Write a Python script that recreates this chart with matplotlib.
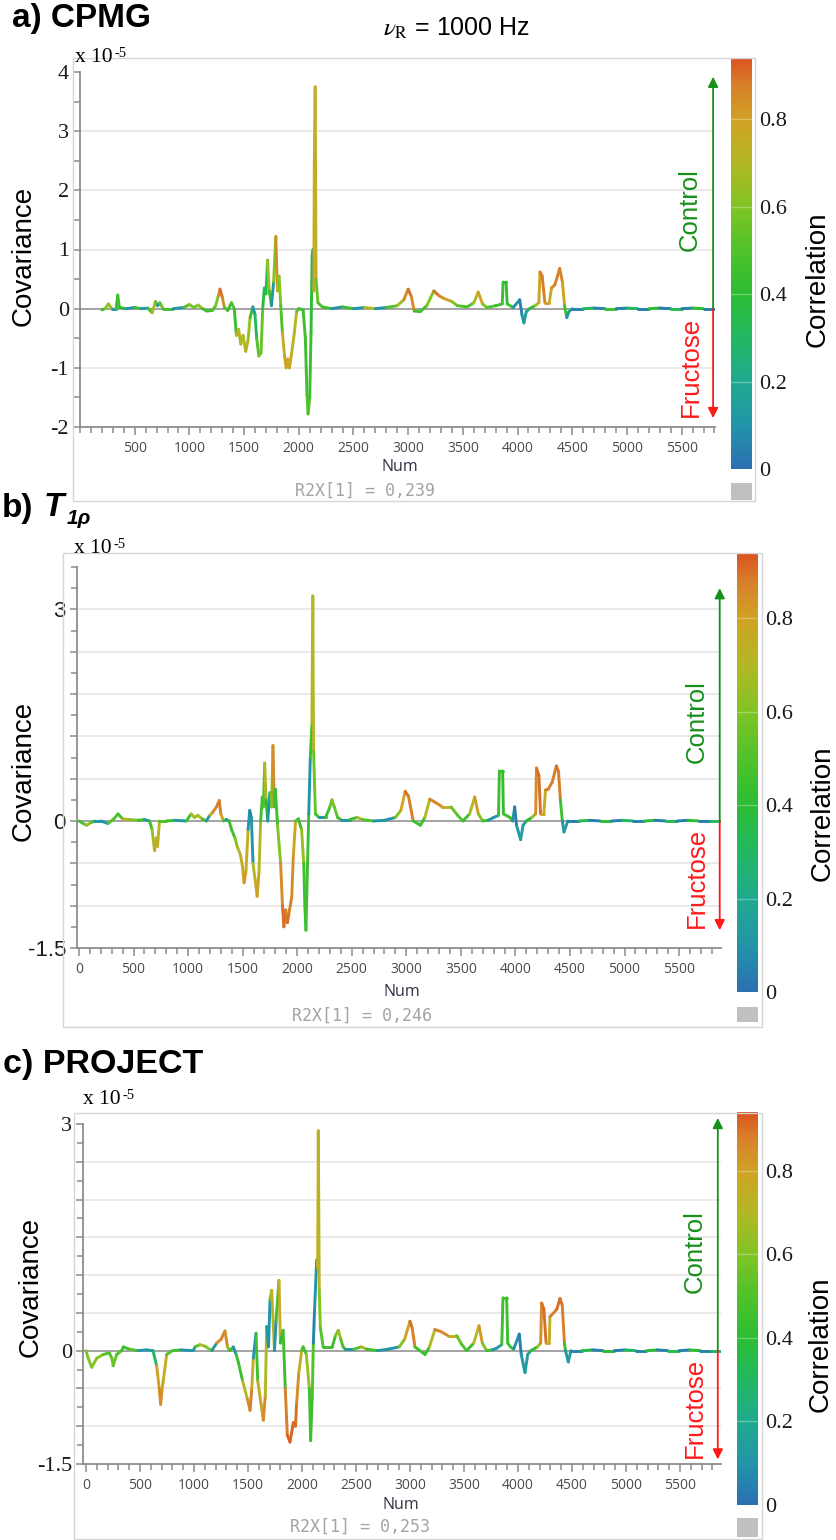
import numpy as np
import matplotlib
matplotlib.use("Agg")
import matplotlib.pyplot as plt
from matplotlib.collections import LineCollection
from matplotlib.colors import LinearSegmentedColormap, Normalize
from matplotlib.cm import ScalarMappable
from matplotlib.patches import Rectangle

# --- data: (Num, covariance x1e-5, correlation) ---
cpmg_num = [
    200, 230, 260, 290, 330, 345, 360, 420, 500, 560,
    620, 660, 690, 710, 730, 760, 850, 950, 1000, 1040,
    1080, 1120, 1160, 1210, 1240, 1265, 1280, 1300, 1320, 1350,
    1385, 1410, 1430, 1450, 1470, 1490, 1515, 1535, 1555, 1580,
    1600, 1615, 1635, 1655, 1670, 1685, 1700, 1715, 1730, 1750,
    1770, 1790, 1805, 1820, 1835, 1850, 1870, 1885, 1900, 1915,
    1935, 1960, 1980, 2000, 2040, 2060, 2075, 2085, 2100, 2112,
    2122, 2130, 2137, 2142, 2150, 2158, 2175, 2215, 2300, 2400,
    2500, 2600, 2700, 2800, 2900, 2960, 3000, 3030, 3055, 3110,
    3170, 3235, 3280, 3330, 3400, 3450, 3540, 3600, 3640, 3680,
    3720, 3800, 3860, 3868, 3895, 3905, 3960, 4020, 4040, 4058,
    4080, 4110, 4160, 4195, 4205, 4225, 4250, 4290, 4310, 4340,
    4365, 4385, 4410, 4430, 4450, 4470, 4500, 4600, 4700, 4800,
    4900, 5000, 5100, 5200, 5300, 5400, 5500, 5600, 5700, 5810]
cpmg_cov = [
    -0.02, 0.00, 0.08, 0.00, 0.00, 0.23, 0.02, 0.00, 0.02, 0.00,
    0.01, -0.07, 0.12, 0.05, 0.10, 0.00, 0.00, 0.02, 0.07, 0.02,
    0.06, 0.00, -0.04, -0.03, 0.05, 0.22, 0.33, 0.20, 0.02, -0.03,
    0.10, 0.00, -0.45, -0.35, -0.60, -0.45, -0.72, -0.55, -0.15, 0.03,
    -0.10, -0.50, -0.80, -0.75, 0.00, 0.35, 0.25, 0.82, 0.30, 0.05,
    0.45, 1.22, 0.30, 0.55, 0.05, -0.40, -0.80, -1.00, -0.85, -1.00,
    -0.75, -0.40, -0.05, 0.00, -0.02, -0.50, -1.45, -1.78, -1.50, -0.40,
    0.90, 1.00, 0.30, 2.40, 3.75, 0.50, 0.10, 0.03, 0.00, 0.03,
    0.00, 0.02, 0.00, 0.02, 0.05, 0.15, 0.33, 0.20, -0.04, -0.05,
    0.05, 0.30, 0.22, 0.17, 0.12, 0.05, 0.03, 0.10, 0.28, 0.08,
    0.02, 0.05, 0.08, 0.45, 0.45, 0.08, 0.02, 0.15, -0.10, -0.24,
    -0.05, 0.00, 0.05, 0.10, 0.62, 0.55, 0.10, 0.10, 0.35, 0.40,
    0.55, 0.68, 0.45, 0.05, -0.15, -0.05, 0.00, 0.00, 0.01, 0.00,
    0.00, 0.01, 0.00, 0.00, 0.01, 0.00, 0.00, 0.01, 0.00, 0.00]
cpmg_corr = [
    0.45, 0.60, 0.65, 0.10, 0.45, 0.45, 0.40, 0.10, 0.45, 0.10,
    0.45, 0.70, 0.50, 0.10, 0.55, 0.45, 0.10, 0.50, 0.60, 0.55,
    0.65, 0.45, 0.45, 0.50, 0.60, 0.85, 0.90, 0.85, 0.50, 0.45,
    0.50, 0.45, 0.70, 0.72, 0.70, 0.68, 0.75, 0.65, 0.45, 0.10,
    0.30, 0.50, 0.62, 0.55, 0.40, 0.30, 0.35, 0.65, 0.45, 0.10,
    0.60, 0.85, 0.70, 0.60, 0.50, 0.75, 0.80, 0.78, 0.75, 0.80,
    0.72, 0.70, 0.55, 0.45, 0.45, 0.45, 0.50, 0.50, 0.45, 0.40,
    0.45, 0.10, 0.75, 0.80, 0.75, 0.55, 0.50, 0.45, 0.10, 0.45,
    0.10, 0.70, 0.10, 0.50, 0.65, 0.85, 0.90, 0.85, 0.45, 0.45,
    0.60, 0.90, 0.85, 0.80, 0.60, 0.50, 0.50, 0.70, 0.80, 0.60,
    0.50, 0.45, 0.45, 0.42, 0.42, 0.45, 0.10, 0.05, 0.10, 0.15,
    0.20, 0.40, 0.65, 0.80, 0.88, 0.88, 0.80, 0.75, 0.85, 0.88,
    0.88, 0.88, 0.80, 0.45, 0.10, 0.15, 0.05, 0.30, 0.05, 0.45,
    0.05, 0.30, 0.05, 0.40, 0.05, 0.35, 0.05, 0.40, 0.05, 0.30]

t1r_num = [
    0, 40, 70, 110, 140, 200, 266, 320, 357, 400,
    465, 540, 600, 647, 670, 693, 710, 720, 738, 800,
    880, 984, 1028, 1060, 1090, 1130, 1166, 1200, 1224, 1260,
    1286, 1300, 1325, 1350, 1376, 1398, 1430, 1450, 1480, 1500,
    1513, 1530, 1550, 1565, 1580, 1595, 1615, 1633, 1650, 1665,
    1680, 1690, 1702, 1715, 1730, 1750, 1765, 1778, 1790, 1800,
    1820, 1848, 1865, 1878, 1895, 1910, 1923, 1950, 1965, 1985,
    2010, 2040, 2060, 2070, 2080, 2095, 2106, 2120, 2135, 2143,
    2150, 2167, 2200, 2260, 2300, 2318, 2340, 2370, 2400, 2480,
    2550, 2600, 2700, 2800, 2900, 2950, 2990, 3020, 3063, 3130,
    3170, 3215, 3280, 3330, 3410, 3470, 3519, 3580, 3627, 3660,
    3701, 3750, 3800, 3845, 3853, 3883, 3890, 3950, 3975, 3993,
    4010, 4048, 4070, 4100, 4150, 4185, 4193, 4215, 4230, 4260,
    4276, 4300, 4337, 4375, 4395, 4412, 4430, 4445, 4480, 4580,
    4680, 4780, 4880, 4980, 5080, 5180, 5280, 5380, 5480, 5580,
    5680, 5780, 5884]
t1r_cov = [
    0.00, -0.03, -0.05, -0.02, 0.00, 0.00, -0.03, 0.03, 0.10, 0.03,
    0.02, 0.01, 0.02, 0.00, -0.10, -0.35, -0.20, -0.30, 0.00, 0.00,
    0.01, 0.00, 0.10, 0.05, 0.08, 0.03, 0.00, 0.08, 0.12, 0.20,
    0.29, 0.10, 0.00, 0.02, 0.00, -0.10, -0.20, -0.30, -0.40, -0.55,
    -0.73, -0.60, -0.10, 0.15, 0.05, -0.50, -0.70, -0.89, -0.60, 0.00,
    0.34, 0.20, 0.82, 0.30, 0.00, 0.40, 0.20, 1.07, 0.20, 0.45,
    -0.05, -0.50, -1.00, -1.25, -1.05, -1.20, -1.10, -0.90, -0.40, 0.00,
    0.03, -0.10, -0.50, -1.00, -1.29, -0.50, 0.10, 0.90, 1.36, 3.19,
    1.00, 0.10, 0.05, 0.05, 0.20, 0.30, 0.20, 0.05, 0.02, 0.02,
    0.05, 0.02, 0.00, 0.01, 0.05, 0.15, 0.42, 0.35, 0.00, -0.05,
    0.05, 0.31, 0.25, 0.20, 0.20, 0.08, 0.00, 0.10, 0.34, 0.10,
    0.00, 0.01, 0.05, 0.08, 0.71, 0.71, 0.10, 0.05, 0.00, 0.20,
    -0.05, -0.22, -0.05, 0.00, 0.05, 0.10, 0.75, 0.65, 0.10, 0.10,
    0.44, 0.45, 0.55, 0.78, 0.70, 0.30, 0.00, -0.13, 0.00, 0.00,
    0.01, 0.00, 0.00, 0.01, 0.00, 0.00, 0.01, 0.00, 0.00, 0.01,
    0.00, 0.00, 0.00]
t1r_corr = [
    0.45, 0.55, 0.65, 0.50, 0.10, 0.10, 0.50, 0.50, 0.45, 0.70,
    0.60, 0.45, 0.10, 0.45, 0.65, 0.78, 0.75, 0.72, 0.50, 0.45,
    0.10, 0.45, 0.70, 0.65, 0.70, 0.50, 0.10, 0.80, 0.85, 0.88,
    0.88, 0.80, 0.45, 0.10, 0.45, 0.45, 0.60, 0.70, 0.75, 0.80,
    0.82, 0.75, 0.10, 0.05, 0.10, 0.70, 0.75, 0.80, 0.70, 0.45,
    0.45, 0.50, 0.70, 0.40, 0.10, 0.45, 0.60, 0.85, 0.45, 0.45,
    0.60, 0.85, 0.90, 0.90, 0.88, 0.90, 0.88, 0.85, 0.80, 0.50,
    0.45, 0.65, 0.45, 0.45, 0.45, 0.45, 0.10, 0.45, 0.65, 0.70,
    0.55, 0.45, 0.10, 0.45, 0.55, 0.60, 0.55, 0.45, 0.10, 0.45,
    0.70, 0.50, 0.10, 0.10, 0.60, 0.80, 0.90, 0.88, 0.45, 0.45,
    0.70, 0.88, 0.85, 0.75, 0.55, 0.50, 0.45, 0.70, 0.82, 0.60,
    0.45, 0.10, 0.10, 0.45, 0.45, 0.42, 0.45, 0.45, 0.10, 0.05,
    0.10, 0.15, 0.15, 0.40, 0.65, 0.85, 0.90, 0.90, 0.80, 0.75,
    0.88, 0.88, 0.88, 0.90, 0.88, 0.45, 0.10, 0.15, 0.05, 0.35,
    0.05, 0.40, 0.05, 0.30, 0.05, 0.40, 0.05, 0.35, 0.05, 0.40,
    0.05, 0.30, 0.05]

proj_num = [
    0, 20, 53, 99, 160, 215, 240, 251, 284, 330,
    346, 400, 480, 560, 620, 654, 678, 691, 705, 715,
    747, 800, 880, 994, 1010, 1055, 1100, 1164, 1210, 1250,
    1287, 1310, 1330, 1364, 1390, 1410, 1450, 1494, 1519, 1535,
    1549, 1574, 1590, 1620, 1642, 1660, 1673, 1690, 1704, 1719,
    1745, 1760, 1787, 1800, 1825, 1845, 1864, 1889, 1920, 1940,
    1950, 1970, 1997, 2010, 2040, 2068, 2080, 2095, 2105, 2115,
    2136, 2145, 2151, 2160, 2170, 2196, 2280, 2310, 2336, 2360,
    2380, 2400, 2480, 2550, 2600, 2700, 2800, 2900, 2950, 3000,
    3020, 3046, 3139, 3180, 3231, 3290, 3350, 3432, 3480, 3525,
    3590, 3639, 3670, 3710, 3760, 3800, 3850, 3861, 3895, 3905,
    3930, 3960, 4012, 4030, 4065, 4090, 4120, 4180, 4210, 4219,
    4240, 4260, 4290, 4296, 4330, 4360, 4389, 4410, 4430, 4440,
    4466, 4490, 4590, 4690, 4790, 4890, 4990, 5090, 5190, 5290,
    5390, 5490, 5590, 5690, 5790, 5880]
proj_cov = [
    0.00, -0.10, -0.22, -0.10, -0.05, -0.03, -0.10, -0.20, -0.05, 0.00,
    0.05, 0.02, 0.00, 0.01, 0.00, -0.20, -0.50, -0.71, -0.50, -0.40,
    -0.05, 0.00, 0.01, 0.00, 0.05, 0.08, 0.06, 0.00, 0.10, 0.15,
    0.26, 0.05, 0.00, 0.05, -0.05, -0.15, -0.40, -0.64, -0.79, -0.50,
    -0.10, 0.23, -0.40, -0.70, -0.92, -0.60, 0.32, 0.05, 0.68, 0.80,
    0.00, 0.40, 0.93, 0.10, 0.27, -0.50, -1.12, -1.21, -0.95, -1.00,
    -0.70, -0.30, 0.00, 0.05, -0.05, -0.50, -1.19, -0.60, 0.10, 0.50,
    1.20, 1.09, 2.91, 0.80, 0.30, 0.05, 0.05, 0.20, 0.27, 0.15,
    0.05, 0.02, 0.02, 0.05, 0.02, 0.00, 0.02, 0.05, 0.15, 0.39,
    0.30, 0.05, -0.05, 0.05, 0.28, 0.25, 0.20, 0.20, 0.08, 0.00,
    0.10, 0.33, 0.10, 0.00, 0.01, 0.03, 0.08, 0.70, 0.70, 0.10,
    0.05, 0.02, 0.22, -0.05, -0.29, -0.05, 0.00, 0.05, 0.10, 0.63,
    0.55, 0.10, 0.10, 0.45, 0.50, 0.55, 0.69, 0.60, 0.10, 0.00,
    -0.15, 0.00, 0.00, 0.01, 0.00, 0.00, 0.01, 0.00, 0.00, 0.01,
    0.00, 0.00, 0.01, 0.00, 0.00, 0.00]
proj_corr = [
    0.60, 0.60, 0.60, 0.60, 0.50, 0.50, 0.55, 0.55, 0.50, 0.45,
    0.45, 0.50, 0.10, 0.10, 0.30, 0.80, 0.85, 0.85, 0.80, 0.75,
    0.50, 0.45, 0.10, 0.10, 0.50, 0.70, 0.60, 0.10, 0.85, 0.88,
    0.85, 0.60, 0.45, 0.10, 0.45, 0.45, 0.70, 0.85, 0.88, 0.75,
    0.10, 0.45, 0.75, 0.80, 0.85, 0.70, 0.15, 0.10, 0.60, 0.75,
    0.10, 0.45, 0.75, 0.40, 0.45, 0.88, 0.92, 0.92, 0.90, 0.90,
    0.85, 0.75, 0.50, 0.45, 0.65, 0.45, 0.45, 0.50, 0.05, 0.10,
    0.50, 0.75, 0.72, 0.60, 0.50, 0.45, 0.45, 0.60, 0.65, 0.50,
    0.45, 0.10, 0.50, 0.70, 0.45, 0.10, 0.10, 0.60, 0.80, 0.90,
    0.88, 0.45, 0.45, 0.70, 0.88, 0.85, 0.75, 0.55, 0.50, 0.45,
    0.70, 0.82, 0.60, 0.45, 0.10, 0.10, 0.45, 0.50, 0.45, 0.45,
    0.45, 0.10, 0.05, 0.10, 0.15, 0.15, 0.40, 0.65, 0.85, 0.90,
    0.90, 0.80, 0.75, 0.88, 0.88, 0.90, 0.90, 0.88, 0.45, 0.10,
    0.15, 0.05, 0.35, 0.05, 0.40, 0.05, 0.30, 0.05, 0.40, 0.05,
    0.35, 0.05, 0.40, 0.05, 0.30, 0.05]

r2x_labels = ["R2X[1] = 0,239", "R2X[1] = 0,246", "R2X[1] = 0,253"]
corr_ticks = [0, 0.2, 0.4, 0.6, 0.8]
corr_tick_labels = ["0", "0.2", "0.4", "0.6", "0.8"]
corr_max = 0.94

# --- styling ---
plt.rcParams["axes.unicode_minus"] = False
plt.rcParams["mathtext.fontset"] = "stix"
SERIF = ["Liberation Serif", "DejaVu Serif"]
SANS = ["Liberation Sans", "DejaVu Sans"]
TICKSANS = ["Open Sans", "DejaVu Sans"]
GREEN = "#17901a"
RED = "#ff1a1a"

W, H = 837, 1540
stops = [(0.00, "#2b6fb3"), (0.10, "#2295a8"), (0.20, "#1faa8e"), (0.30, "#22b862"),
         (0.40, "#2cbd34"), (0.50, "#4fc22a"), (0.60, "#80c424"), (0.70, "#b2b824"),
         (0.80, "#d0a224"), (0.88, "#d8802a"), (0.94, "#d9531f")]
corr_cmap = LinearSegmentedColormap.from_list(
    "simca", [(v / corr_max, c) for v, c in stops])
corr_norm = Normalize(0, corr_max)


def px_rect(l, t, r, b):
    return [l / W, 1 - b / H, (r - l) / W, (b - t) / H]


def ftext(x, y, s, **kw):
    kw.setdefault("ha", "center")
    kw.setdefault("va", "center")
    return fig.text(x / W, 1 - y / H, s, **kw)


def add_box(l, t, r, b, **kw):
    fig.add_artist(Rectangle((l / W, 1 - b / H), (r - l) / W, (b - t) / H,
                             transform=fig.transFigure, **kw))


def scale_label(ax, x, y):
    # "x 10" with a raised "-5", SIMCA style
    t = ftext(x, y, "x 10", ha="left", fontsize=15.5, family=SERIF)
    ax.annotate("-5", xy=(1.0, 1.0), xycoords=t, xytext=(1, 1), textcoords="offset points",
                ha="left", va="top", fontsize=10.5, family=SERIF, annotation_clip=False)


def draw_trace(ax, num, cov, corr):
    pts = np.column_stack([num, cov])
    segs = np.stack([pts[:-1], pts[1:]], axis=1)
    lc = LineCollection(segs, cmap=corr_cmap, norm=corr_norm, linewidths=2.1,
                        capstyle="round", joinstyle="round", zorder=3)
    lc.set_array(np.asarray(corr[:-1]))
    ax.add_collection(lc)


def style_axes(ax, xlim, ylim, xticks, yticks, ylabels, yminor, ygrid, yfamily):
    ax.set_xlim(xlim)
    ax.set_ylim(ylim)
    for s in ["top", "right"]:
        ax.spines[s].set_visible(False)
    for s in ["left", "bottom"]:
        ax.spines[s].set_color("#8c8c8c")
        ax.spines[s].set_linewidth(1.3)
    ax.set_xticks(xticks)
    ax.set_xticklabels([str(v) for v in xticks], fontsize=10, family=TICKSANS,
                       color="#4a4a4a")
    ax.set_xticks(np.arange(0, xlim[1], 100), minor=True)
    ax.set_yticks(yticks)
    ax.set_yticklabels(ylabels, fontsize=16, family=yfamily, color="#1a1a1a")
    ax.set_yticks(yminor, minor=True)
    ax.tick_params(which="both", color="#8c8c8c", width=1.1)
    ax.tick_params(axis="x", which="major", length=6, pad=4)
    ax.tick_params(axis="x", which="minor", length=4)
    ax.tick_params(axis="y", which="major", length=5, pad=3)
    ax.tick_params(axis="y", which="minor", length=4)
    for g in ygrid:
        ax.axhline(g, color="#e4e4e4", lw=1.1, zorder=1)
    ax.axhline(0, color="#a3a3a3", lw=1.4, zorder=2)
    ax.patch.set_alpha(0)


def add_colorbar(l, t, r, b):
    cax = fig.add_axes(px_rect(l, t, r, b))
    cb = fig.colorbar(ScalarMappable(norm=corr_norm, cmap=corr_cmap), cax=cax)
    cb.outline.set_visible(False)
    cb.set_ticks(corr_ticks)
    cb.set_ticklabels(corr_tick_labels)
    cax.tick_params(length=0, pad=5)
    for lab in cax.get_yticklabels():
        lab.set_fontfamily(SERIF)
        lab.set_fontsize(16)
        lab.set_color("#1a1a1a")
    for v in corr_ticks[1:]:
        cax.axhline(v, color="white", alpha=0.3, lw=1)
    return cax


def add_arrows(ax, xf, top, bottom):
    tr = ax.get_yaxis_transform()
    for tip, col in [(top, GREEN), (bottom, RED)]:
        ax.annotate("", xy=(xf, tip), xytext=(xf, 0), xycoords=tr, textcoords=tr,
                    annotation_clip=False,
                    arrowprops=dict(arrowstyle="-|>", color=col, lw=1.3,
                                    mutation_scale=15, shrinkA=0, shrinkB=0))


fig = plt.figure(figsize=(W / 100, H / 100), dpi=100)
fig.patch.set_facecolor("white")

# panel frames (SIMCA plot borders)
for box in [(73, 58, 755, 501), (63, 553, 762, 1027), (74, 1113, 762, 1539)]:
    add_box(*box, fill=False, ec="#d6d6d6", lw=1)
for box in [(731, 483, 752, 500), (737, 1007, 758, 1022), (737, 1518, 758, 1537)]:
    add_box(*box, fc="#c0c0c0", ec="none")

# ---------- a) CPMG ----------
ax_a = fig.add_axes(px_rect(80, 72, 715, 427))
draw_trace(ax_a, cpmg_num, cpmg_cov, cpmg_corr)
style_axes(ax_a, (171, 5805), (-2, 4), list(range(500, 5501, 500)),
           [-2, -1, 0, 1, 2, 3, 4], ["-2", "-1", "0", "1", "2", "3", "4"],
           np.arange(-1.5, 4, 1.0), [-1, 1, 2, 3], SERIF)
add_arrows(ax_a, 0.997, 3.92, -1.85)
add_colorbar(731, 58, 752, 469)

ftext(12, 18, "a) CPMG", ha="left", fontsize=24, fontweight="bold", family=SANS)
ftext(456, 28, r"$\nu_{\mathrm{R}}$ = 1000 Hz", fontsize=18, family=SANS)
scale_label(ax_a, 75, 58)
ftext(24, 256, "Covariance", rotation=90, fontsize=20, family=SANS)
ftext(818, 279, "Correlation", rotation=90, fontsize=20, family=SANS)
ftext(690, 210, "Control", rotation=90, fontsize=18.5, family=SANS, color=GREEN)
ftext(691, 367, "Fructose", rotation=90, fontsize=18.5, family=SANS, color=RED)
ftext(400, 467, "Num", fontsize=11.5, family=TICKSANS, color="#333344")
ftext(365, 491, r2x_labels[0], fontsize=12, family="DejaVu Sans Mono", color="#a3a3a3")

# ---------- b) T1rho ----------
ax_b = fig.add_axes(px_rect(77, 567, 721, 948))
ax_b.set_yscale("function", functions=(lambda y: np.where(y > 0, y / 1.2, y),
                                       lambda v: np.where(v > 0, v * 1.2, v)))
draw_trace(ax_b, t1r_num, t1r_cov, t1r_corr)
b_major = [-1.5, -1.0, -0.5, 0, 0.6, 1.2, 1.8, 2.4, 3.0]
style_axes(ax_b, (-18, 5884), (-1.5, 3.6), list(range(0, 5501, 500)),
           b_major, ["-1.5", "", "", "0", "", "", "", "", "3"],
           [-1.25, -0.75, -0.25, 0.3, 0.9, 1.5, 2.1, 2.7, 3.3, 3.6],
           [-1.0, -0.5, 0.6, 1.2, 1.8, 2.4, 3.0], SANS)
add_arrows(ax_b, 0.998, 3.30, -1.29)
add_colorbar(737, 553, 758, 992)

ftext(2, 508, "b)", ha="left", fontsize=24, fontweight="bold", family=SANS)
ftext(44, 508, "T", ha="left", fontsize=24, fontweight="bold", style="italic", family=SANS)
ftext(67, 518, "1ρ", ha="left", fontsize=15, fontweight="bold", style="italic", family=SANS)
scale_label(ax_b, 74, 549)
ftext(24, 771, "Covariance", rotation=90, fontsize=20, family=SANS)
ftext(823, 813, "Correlation", rotation=90, fontsize=20, family=SANS)
ftext(697, 722, "Control", rotation=90, fontsize=18.5, family=SANS, color=GREEN)
ftext(697, 878, "Fructose", rotation=90, fontsize=18.5, family=SANS, color=RED)
ftext(402, 992, "Num", fontsize=11.5, family=TICKSANS, color="#333344")
ftext(362, 1016, r2x_labels[1], fontsize=12, family="DejaVu Sans Mono", color="#a3a3a3")

# ---------- c) PROJECT ----------
ax_c = fig.add_axes(px_rect(83, 1124, 721, 1464))
draw_trace(ax_c, proj_num, proj_cov, proj_corr)
c_major = [-1.5, -1.0, -0.5, 0, 0.5, 1.0, 1.5, 2.0, 2.5, 3.0]
style_axes(ax_c, (-28, 5880), (-1.5, 3.0), list(range(0, 5501, 500)),
           c_major, ["-1.5", "", "", "0", "", "", "", "", "", "3"],
           np.arange(-1.25, 3.0, 0.5), [-1.0, -0.5, 0.5, 1.0, 1.5, 2.0, 2.5], SERIF)
add_arrows(ax_c, 0.995, 3.08, -1.44)
add_colorbar(737, 1112, 758, 1505)

ftext(3, 1064, "c) PROJECT", ha="left", fontsize=24.5, fontweight="bold", family=SANS)
scale_label(ax_c, 83, 1100)
ftext(31, 1287, "Covariance", rotation=90, fontsize=20, family=SANS)
ftext(821, 1344, "Correlation", rotation=90, fontsize=20, family=SANS)
ftext(695, 1252, "Control", rotation=90, fontsize=18.5, family=SANS, color=GREEN)
ftext(695, 1408, "Fructose", rotation=90, fontsize=18.5, family=SANS, color=RED)
ftext(401, 1505, "Num", fontsize=11.5, family=TICKSANS, color="#333344")
ftext(360, 1527, r2x_labels[2], fontsize=12, family="DejaVu Sans Mono", color="#a3a3a3")

fig.savefig("out.png", dpi=100)
